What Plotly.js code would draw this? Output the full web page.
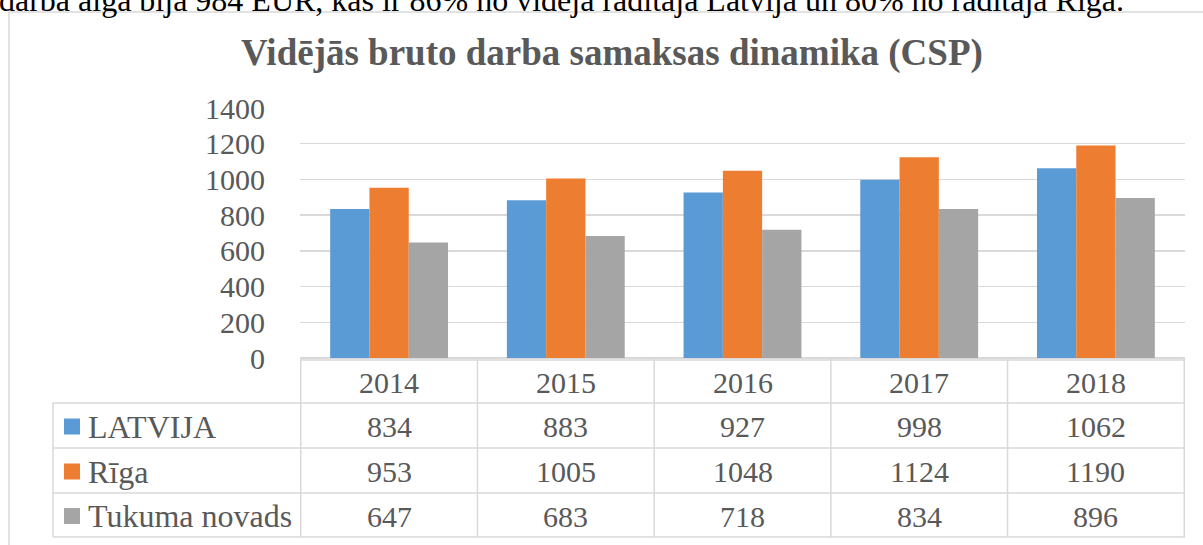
<!DOCTYPE html>
<html>
<head>
<meta charset="utf-8">
<script src="https://cdn.plot.ly/plotly-3.0.1.min.js"></script>
<style>html,body{margin:0;padding:0;background:#fff;}#chart{width:1203px;height:545px;}</style>
</head>
<body>
<div id="chart"></div>
<script>
const years = ['2014', '2015', '2016', '2017', '2018'];
const seriesNames = ['LATVIJA', 'Rīga', 'Tukuma novads'];
const latvija = [834, 883, 927, 998, 1062];
const riga = [953, 1005, 1048, 1124, 1190];
const tukums = [647, 683, 718, 834, 896];
const colors = ['#5B9BD5', '#ED7D31', '#A5A5A5'];
const chartTitle = 'Vidējās bruto darba samaksas dinamika (CSP)';
const introText = 'darba alga bija 984 EUR, kas ir 86% no vidējā rādītāja Latvijā un 80% no rādītāja Rīgā.';

const W = 1203, H = 545;
const L = 300, R = 1185, T = 108, B = 358;
const px2x = px => (px - L) / (R - L);
const py2y = py => (B - py) / (B - T);
const rowEdges = [360, 403, 448, 493, 537];
const legendLeft = 53;
const grid = '#D9D9D9';
const txt = '#595959';
const serif = '"Liberation Serif", "Times New Roman", serif';

const allSeries = [latvija, riga, tukums];
const traces = allSeries.map((vals, i) => ({
  type: 'bar', x: years, y: vals, name: seriesNames[i],
  marker: {color: colors[i]}, hoverinfo: 'skip'
}));

const shapes = [];
const annotations = [];
const line = (x0, y0, x1, y1, xref) => shapes.push({type: 'line', xref: xref || 'paper', yref: 'paper',
  x0: x0, y0: y0, x1: x1, y1: y1, line: {color: grid, width: 1.5}, layer: 'above'});

// outer frame
shapes.push({type: 'rect', xref: 'paper', yref: 'paper', x0: px2x(9), x1: px2x(1215), y0: py2y(12), y1: py2y(600),
  line: {color: grid, width: 1.5}, fillcolor: 'rgba(0,0,0,0)', layer: 'below'});

// horizontal table lines
line(px2x(L), py2y(rowEdges[0]), px2x(R), py2y(rowEdges[0]));
for (let r = 1; r < rowEdges.length; r++) line(px2x(legendLeft), py2y(rowEdges[r]), px2x(R), py2y(rowEdges[r]));
// vertical lines
line(px2x(legendLeft), py2y(rowEdges[1]), px2x(legendLeft), py2y(rowEdges[4]));
for (let c = 0; c <= years.length; c++) line(c - 0.5, py2y(B), c - 0.5, py2y(rowEdges[4]), 'x');

// header years
years.forEach((y, c) => annotations.push({xref: 'x', yref: 'paper', x: c, y: py2y((rowEdges[0] + rowEdges[1]) / 2 + 1),
  text: y, showarrow: false, font: {family: serif, size: 30, color: txt}, xanchor: 'center', yanchor: 'middle'}));

// rows
allSeries.forEach((vals, r) => {
  const cy = (rowEdges[r + 1] + rowEdges[r + 2]) / 2 + 1;
  shapes.push({type: 'rect', xref: 'paper', yref: 'paper', x0: px2x(64), x1: px2x(80), y0: py2y(cy - 8), y1: py2y(cy + 8),
    fillcolor: colors[r], line: {width: 0}, layer: 'above'});
  annotations.push({xref: 'paper', yref: 'paper', x: px2x(86), y: py2y(cy), text: seriesNames[r], showarrow: false,
    font: {family: serif, size: 32, color: txt}, xanchor: 'left', yanchor: 'middle'});
  vals.forEach((v, c) => annotations.push({xref: 'x', yref: 'paper', x: c, y: py2y(cy), text: String(v), showarrow: false,
    font: {family: serif, size: 30, color: txt}, xanchor: 'center', yanchor: 'middle'}));
});

// title
annotations.push({xref: 'paper', yref: 'paper', x: px2x(612), y: py2y(53), text: '<b>' + chartTitle + '</b>', showarrow: false,
  font: {family: serif, size: 37, color: txt}, xanchor: 'center', yanchor: 'middle'});
// cut-off intro line above chart
annotations.push({xref: 'paper', yref: 'paper', x: px2x(-3), y: py2y(0), text: introText, showarrow: false,
  font: {family: serif, size: 32, color: '#000'}, xanchor: 'left', yanchor: 'middle'});

const layout = {
  width: W, height: H,
  margin: {l: L, r: W - R, t: T, b: H - B, pad: 0},
  paper_bgcolor: '#fff', plot_bgcolor: '#fff',
  showlegend: false,
  barmode: 'group', bargap: 0.333, bargroupgap: 0,
  xaxis: {type: 'category', showticklabels: false, showgrid: false, zeroline: false, showline: false, ticks: '', fixedrange: true},
  yaxis: {range: [0, 1400], dtick: 200, tick0: 0, showgrid: true, gridcolor: grid, gridwidth: 1.5,
    zeroline: true, zerolinecolor: grid, zerolinewidth: 1.5, showline: false,
    ticks: 'outside', ticklen: 28, tickcolor: 'rgba(0,0,0,0)',
    tickfont: {family: serif, size: 30, color: txt}, fixedrange: true},
  shapes: shapes, annotations: annotations
};

Plotly.newPlot('chart', traces, layout, {displayModeBar: false, staticPlot: true});
</script>
</body>
</html>
